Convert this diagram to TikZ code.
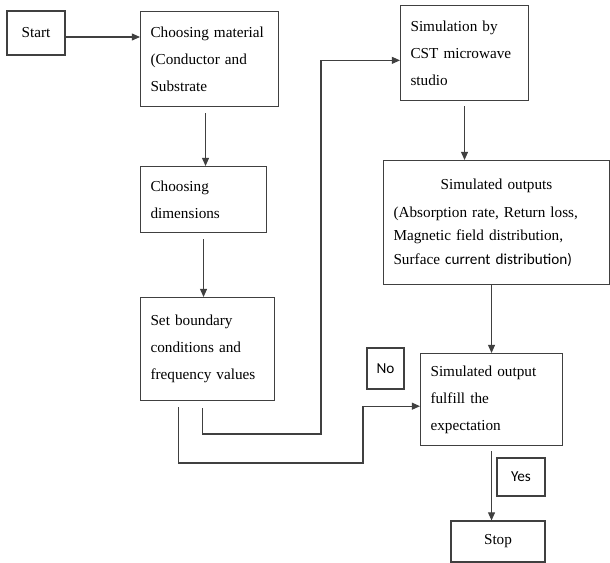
\documentclass[tikz,border=0pt]{standalone}
\usepackage{fontspec}
\setmainfont{Liberation Serif}
\newfontfamily\calibri{Carlito}
\usetikzlibrary{arrows.meta}
\definecolor{cline}{HTML}{404040}
\tikzset{
  every picture/.style={line width=0.9pt},
  box/.style={draw=cline, anchor=north west, align=left, inner xsep=0.3cm, inner ysep=0pt, font=\fontsize{13}{23}\selectfont},
  tag/.style={draw=cline, align=center, inner sep=0pt, font=\calibri\fontsize{13}{15}\selectfont},
  arrow/.style={-{Triangle[length=7pt, width=6pt]}, draw=cline},
  link/.style={draw=cline},
}

\begin{document}
\begin{tikzpicture}
  \useasboundingbox (0,0) rectangle (18.3,-16.89);
  % left column
  \node[tag, font=\fontsize{13}{15}\selectfont, minimum width=1.74cm, minimum height=1.32cm] (start) at (1.08,-0.99) {Start};
  \node[box, text width=3.54cm, minimum height=2.85cm] (mat) at (4.2,-0.33) {Choosing material\\(Conductor and\\Substrate};
  \node[box, text width=3.18cm, minimum height=1.98cm] (dims) at (4.2,-4.98) {Choosing\\dimensions};
  \node[box, text width=3.42cm, minimum height=3.09cm] (bound) at (4.2,-8.91) {Set boundary\\conditions and\\frequency values};
  % right column
  \node[box, text width=3.24cm, minimum height=2.85cm] (cst) at (12.0,-0.15) {Simulation by\\CST microwave\\studio};
  \node[box, text width=6.18cm, minimum height=3.72cm, font=\fontsize{13}{20}\selectfont] (simout) at (11.49,-4.8)
    {\hfill Simulated outputs\hfill\null\\[0.15cm](Absorption rate, Return loss,\\Magnetic field distribution,\\Surface {\calibri current distribution)}};
  \node[box, text width=3.66cm, minimum height=2.76cm] (fulfil) at (12.6,-10.59) {Simulated output\\fulfill the\\expectation};
  \node[tag, minimum width=1.11cm, minimum height=1.23cm] (no) at (11.565,-11.055) {No};
  \node[tag, minimum width=1.44cm, minimum height=1.14cm] (yes) at (15.63,-14.31) {Yes};
  \node[tag, font=\fontsize{13}{15}\selectfont, minimum width=2.82cm, minimum height=1.23cm] (stop) at (14.94,-16.245) {Stop};
  % connectors
  \coordinate (loopA) at (9.63,-13.02);
  \coordinate (loopB) at (10.89,-13.89);
  \draw[arrow] ([yshift=-0.12cm]start.east) -- ([yshift=-0.12cm]start.east -| mat.west);
  \draw[arrow, shorten <=0.18cm] ([xshift=-0.12cm]mat.south) -- ([xshift=-0.12cm]mat.south |- dims.north);
  \draw[arrow, shorten <=0.18cm] (dims.south) -- (dims.south |- bound.north);
  \draw[arrow] ([xshift=-0.15cm, yshift=-0.21cm]bound.south) |- (loopA) |- ([yshift=-0.22cm]cst.west);
  \draw[arrow] ([xshift=-0.87cm, yshift=-0.18cm]bound.south) |- (loopB) |- ([yshift=-0.2cm]fulfil.west);
  \draw[arrow, shorten <=0.15cm] (cst.south) -- (cst.south |- simout.north);
  \draw[arrow] (simout.south -| fulfil.north) -- (fulfil.north);
  \draw[arrow, shorten <=0.15cm] (fulfil.south) -- (fulfil.south |- stop.north);
\end{tikzpicture}
\end{document}
